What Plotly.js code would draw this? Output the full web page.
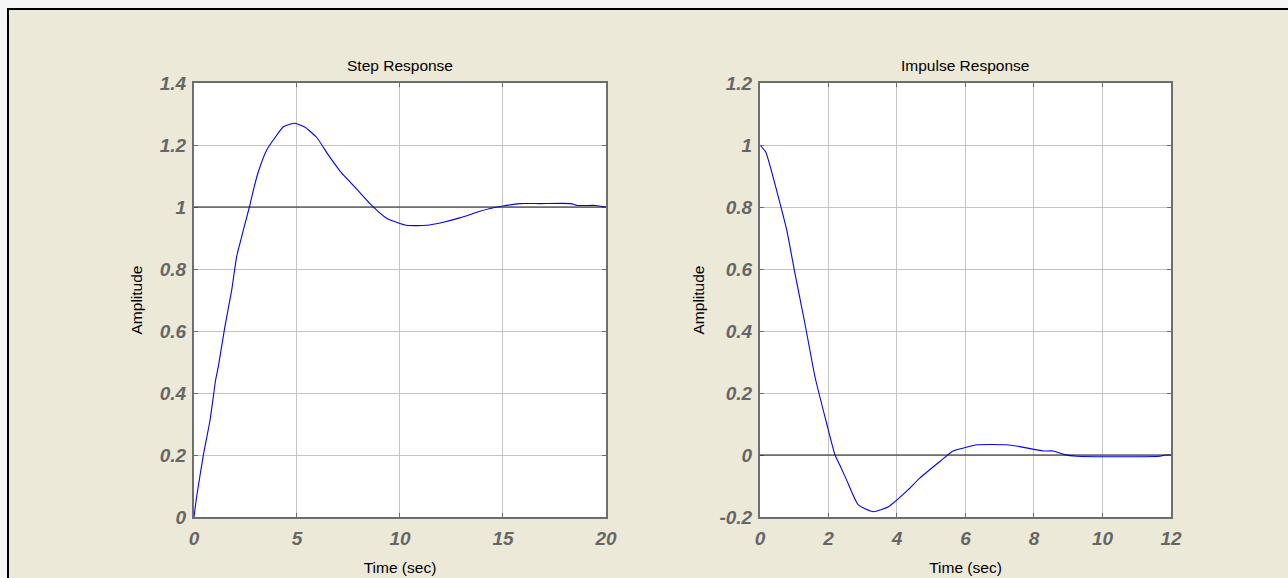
<!DOCTYPE html>
<html>
<head>
<meta charset="utf-8">
<script src="https://cdn.plot.ly/plotly-3.0.1.min.js"></script>
<style>
  html, body { margin: 0; padding: 0; width: 1288px; height: 578px; overflow: hidden; background: #f6f6f6; }
  #frame { position: absolute; left: 7px; top: 8px; width: 1320px; height: 620px; border: 2px solid #000; background: #ECE9D8; }
  #chart { position: absolute; left: 0; top: 0; width: 1288px; height: 578px; }
</style>
</head>
<body>
<div id="frame"></div>
<div id="chart"></div>
<script>
// ---- data ----
const stepTime = [0, 0.13, 0.45, 0.78, 1.05, 1.18, 1.5, 1.83, 2.07, 2.23, 2.48, 2.69, 2.88, 3.12, 3.53, 3.85, 4.34, 4.9, 5.39, 5.95, 6.52, 7.09, 7.57, 7.98, 8.54, 9.35, 10.32, 11.3, 12.1, 12.9, 13.88, 14.37, 15.0, 15.8, 16.8, 18.3, 18.6, 19.5, 20];
const stepAmp  = [0, 0.066, 0.198, 0.313, 0.442, 0.485, 0.614, 0.732, 0.84, 0.883, 0.947, 1.0, 1.054, 1.113, 1.184, 1.216, 1.259, 1.27, 1.257, 1.225, 1.168, 1.116, 1.081, 1.052, 1.011, 0.964, 0.941, 0.941, 0.951, 0.965, 0.986, 0.995, 1.003, 1.011, 1.011, 1.011, 1.005, 1.005, 1.0];

const impTime = [0, 0.165, 0.34, 0.535, 0.78, 1.02, 1.31, 1.61, 1.95, 2.19, 2.34, 2.53, 2.87, 3.31, 3.75, 4.33, 4.67, 5.26, 5.64, 5.99, 6.33, 7.2, 7.59, 8.27, 8.56, 8.86, 9.25, 11.68, 11.82, 12];
const impAmp  = [1.0, 0.978, 0.914, 0.833, 0.726, 0.586, 0.425, 0.25, 0.1, 0.0, -0.035, -0.081, -0.161, -0.183, -0.167, -0.112, -0.074, -0.02, 0.013, 0.024, 0.033, 0.033, 0.027, 0.013, 0.013, 0.002, -0.004, -0.004, 0, 0];

const steadyState = [1, 0];   // black reference lines (step, impulse)

const stepXTicks = [0, 5, 10, 15, 20];
const stepXLabels = ['0', '5', '10', '15', '20'];
const stepYTicks = [0, 0.2, 0.4, 0.6, 0.8, 1, 1.2, 1.4];
const stepYLabels = ['0', '0.2', '0.4', '0.6', '0.8', '1', '1.2', '1.4'];
const impXTicks = [0, 2, 4, 6, 8, 10, 12];
const impXLabels = ['0', '2', '4', '6', '8', '10', '12'];
const impYTicks = [-0.2, 0, 0.2, 0.4, 0.6, 0.8, 1, 1.2];
const impYLabels = ['-0.2', '0', '0.2', '0.4', '0.6', '0.8', '1', '1.2'];

const titles = ['Step Response', 'Impulse Response'];
const xTitle = 'Time (sec)';
const yTitle = 'Amplitude';

// ---- styling ----
const FONT = '"Liberation Sans", Arial, sans-serif';
const tickFont = { family: FONT, size: 19, color: '#666666', weight: 'bold', style: 'italic' };
const titleFont = { family: FONT, size: 15.5, color: '#000000' };

function axisBase(extra) {
  return Object.assign({
    showline: true, linecolor: '#6e6e6e', linewidth: 2, mirror: 'ticks',
    ticks: 'inside', ticklen: 4, tickcolor: '#6e6e6e', tickwidth: 1,
    showgrid: true, gridcolor: '#c4c4c4', gridwidth: 1,
    zeroline: false, tickmode: 'array', tickfont: tickFont,
    fixedrange: true, automargin: false
  }, extra);
}

const curveLine = { color: '#0000ff', width: 1.1, shape: 'spline', smoothing: 0.5 };

const traces = [
  { x: stepTime, y: stepAmp, xaxis: 'x', yaxis: 'y', type: 'scatter', mode: 'lines',
    line: curveLine, hoverinfo: 'skip' },
  { x: impTime, y: impAmp, xaxis: 'x2', yaxis: 'y2', type: 'scatter', mode: 'lines',
    line: curveLine, hoverinfo: 'skip' }
];

const layout = {
  width: 1288, height: 578,
  margin: { l: 0, r: 0, t: 0, b: 0 },
  paper_bgcolor: 'rgba(0,0,0,0)', plot_bgcolor: '#ffffff',
  showlegend: false,
  xaxis: axisBase({ domain: [0.15062, 0.47050], range: [0, 20], anchor: 'y',
    tickvals: stepXTicks, ticktext: stepXLabels, ticklabelstandoff: 3,
    title: { text: xTitle, font: titleFont, standoff: 14 } }),
  yaxis: axisBase({ domain: [0.10554, 0.85640], range: [0, 1.4], anchor: 'x',
    tickvals: stepYTicks, ticktext: stepYLabels, ticklabelstandoff: 2,
    title: { text: yTitle, font: titleFont, standoff: 13 } }),
  xaxis2: axisBase({ domain: [0.59006, 0.90916], range: [0, 12], anchor: 'y2',
    tickvals: impXTicks, ticktext: impXLabels, ticklabelstandoff: 3,
    title: { text: xTitle, font: titleFont, standoff: 14 } }),
  yaxis2: axisBase({ domain: [0.10554, 0.85640], range: [-0.2, 1.2], anchor: 'x2',
    tickvals: impYTicks, ticktext: impYLabels, ticklabelstandoff: 2,
    title: { text: yTitle, font: titleFont, standoff: 11 } }),
  shapes: [
    { type: 'line', xref: 'x domain', yref: 'y', x0: 0, x1: 1, y0: steadyState[0], y1: steadyState[0],
      line: { color: '#1a1a1a', width: 1 }, layer: 'above' },
    { type: 'line', xref: 'x2 domain', yref: 'y2', x0: 0, x1: 1, y0: steadyState[1], y1: steadyState[1],
      line: { color: '#1a1a1a', width: 1 }, layer: 'above' }
  ],
  annotations: [
    { text: titles[0], xref: 'x domain', yref: 'y domain', x: 0.5, y: 1, xanchor: 'center', yanchor: 'middle',
      yshift: 18, showarrow: false, font: titleFont },
    { text: titles[1], xref: 'x2 domain', yref: 'y2 domain', x: 0.5, y: 1, xanchor: 'center', yanchor: 'middle',
      yshift: 18, showarrow: false, font: titleFont }
  ]
};

Plotly.newPlot('chart', traces, layout, { staticPlot: true, displayModeBar: false });
</script>
</body>
</html>
